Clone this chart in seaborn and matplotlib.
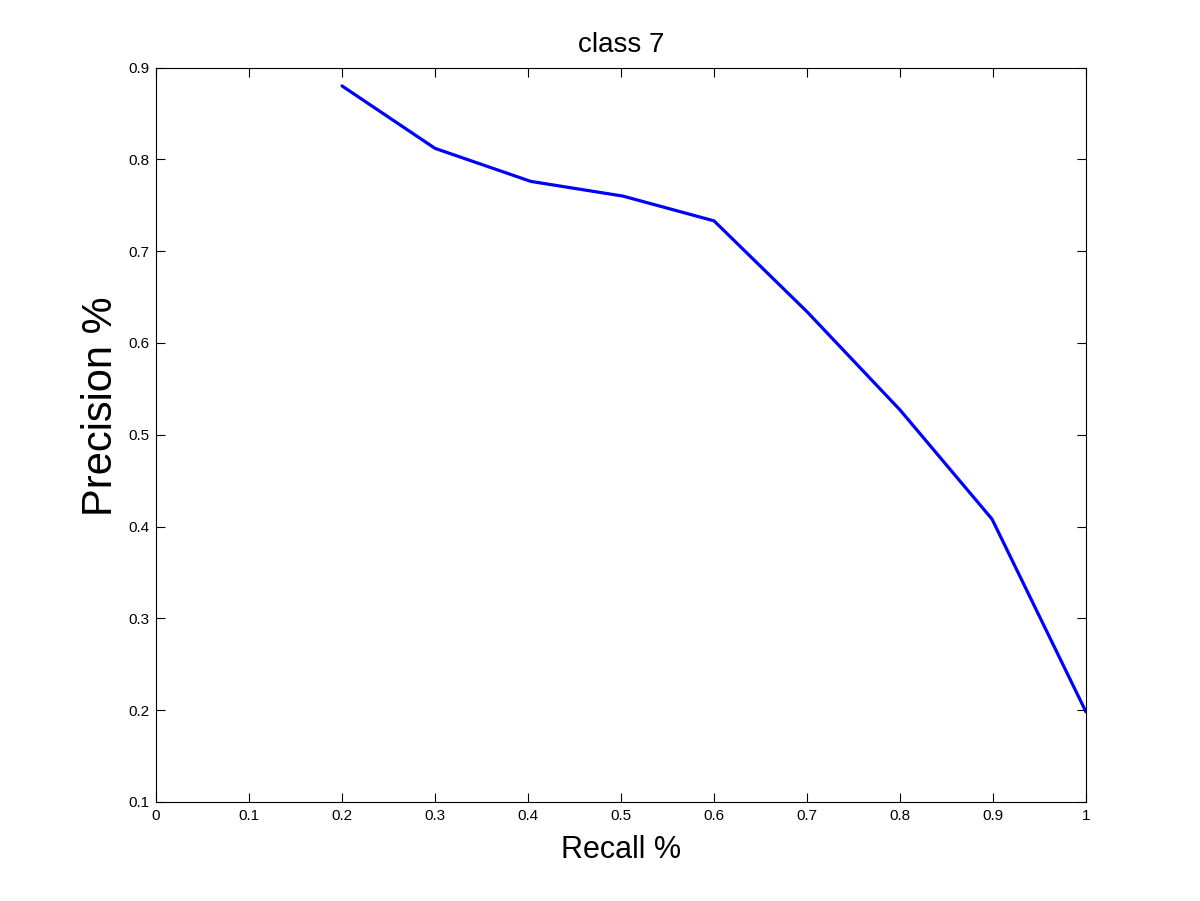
import numpy as np
import pandas as pd
import seaborn as sns
import matplotlib
matplotlib.use("Agg")
import matplotlib.pyplot as plt

# precision / recall values
recall = [0.2, 0.3, 0.403, 0.502, 0.6, 0.7, 0.8, 0.899, 1.0]
precision = [0.880, 0.812, 0.776, 0.760, 0.733, 0.634, 0.527, 0.408, 0.198]

xticks = [0, 0.1, 0.2, 0.3, 0.4, 0.5, 0.6, 0.7, 0.8, 0.9, 1]
xticklabels = ['0', '0.1', '0.2', '0.3', '0.4', '0.5', '0.6', '0.7', '0.8', '0.9', '1']
yticks = [0.1, 0.2, 0.3, 0.4, 0.5, 0.6, 0.7, 0.8, 0.9]
yticklabels = ['0.1', '0.2', '0.3', '0.4', '0.5', '0.6', '0.7', '0.8', '0.9']


def plot():
    sns.set_style("ticks", {'text.color': 'k', 'axes.labelcolor': 'k',
                            'xtick.color': 'k', 'ytick.color': 'k',
                            'axes.edgecolor': 'k'})
    plt.rcParams['font.family'] = ['Liberation Sans', 'DejaVu Sans']
    df = pd.DataFrame({'recall': recall, 'precision': precision})

    fig = plt.figure(figsize=(12, 9.01), dpi=100)
    ax = fig.add_axes([0.13, 0.11, 0.775, 0.815])
    sns.lineplot(data=df, x='recall', y='precision', ax=ax, color='#0000ff',
                 linewidth=2.3, sort=False, estimator=None)

    ax.set_xlim(0, 1)
    ax.set_ylim(0.1, 0.9)
    ax.set_xticks(xticks)
    ax.set_xticklabels(xticklabels)
    ax.set_yticks(yticks)
    ax.set_yticklabels(yticklabels)
    ax.tick_params(direction='in', length=6.5, width=0.8, top=True, right=True,
                   labelsize=11, colors='k', pad=5)
    for s in ax.spines.values():
        s.set_visible(True)
        s.set_linewidth(0.8)
        s.set_color('k')

    ax.set_title('class 7', fontsize=20, pad=11, color='k')
    ax.set_xlabel('Recall %', fontsize=22, labelpad=9, color='k')
    ax.set_ylabel('Precision %', fontsize=30, color='k')
    # matlab put the y label a bit above centre
    ax.yaxis.set_label_coords(-0.038, 0.539)

    fig.savefig('out.png', dpi=100)


if __name__ == "__main__":
    plot()
